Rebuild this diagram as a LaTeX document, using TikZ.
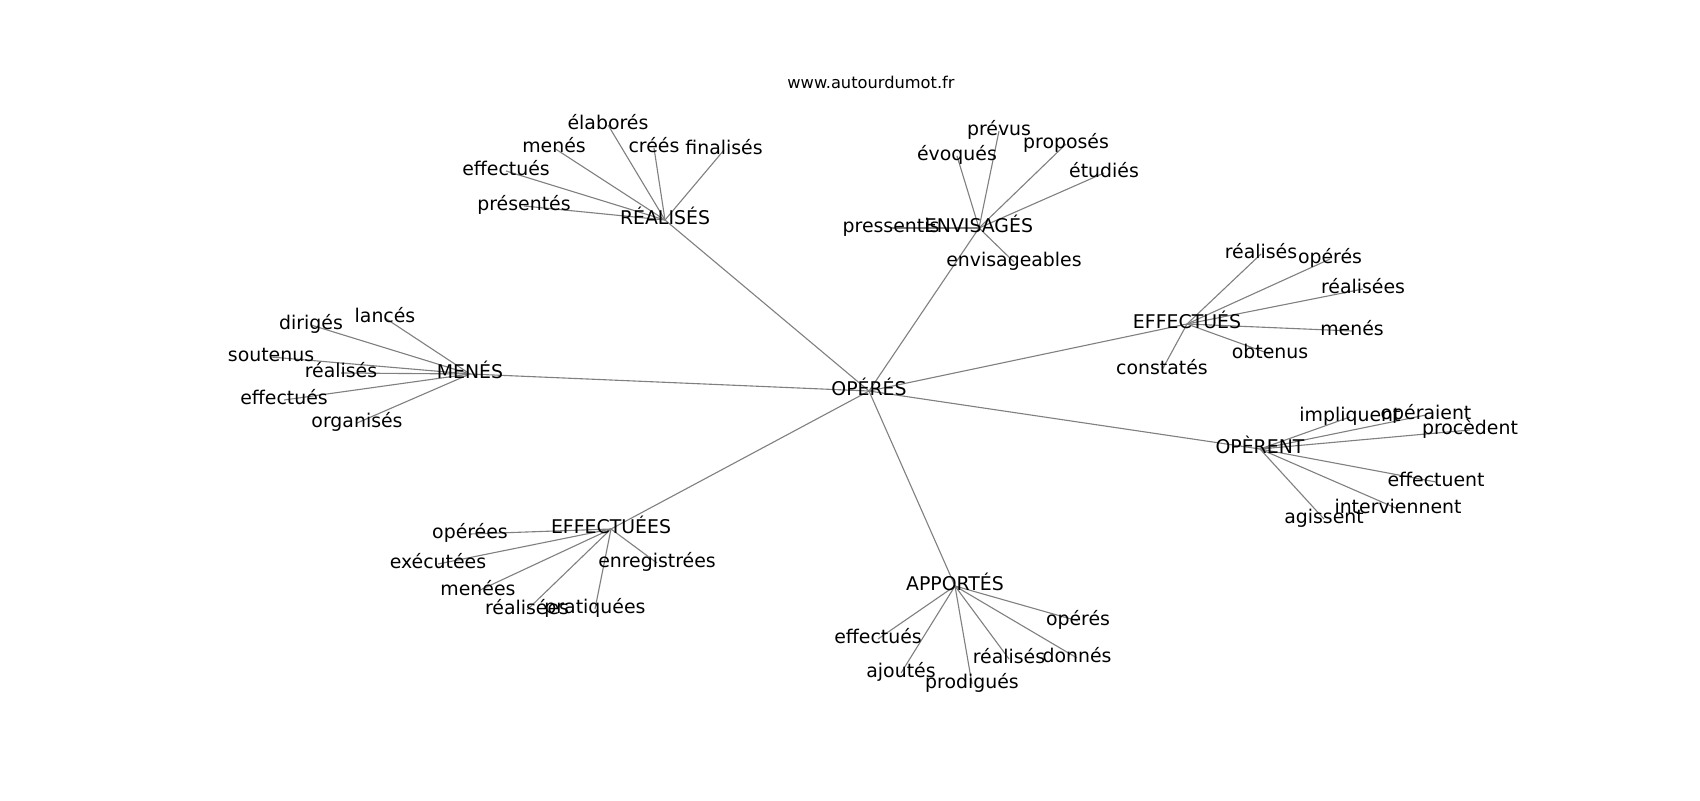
\documentclass[tikz,border=0pt]{standalone}
\usepackage{fontspec}
\setmainfont{DejaVu Sans}
\usetikzlibrary{backgrounds}
\begin{document}
\begin{tikzpicture}[x=0.72pt,y=-0.72pt,
  lbl/.style={inner sep=0pt, font=\fontsize{13.6}{16}\selectfont, text height=10.3pt, text depth=3.3pt, anchor=center},
  ttl/.style={inner sep=0pt, font=\fontsize{11.7}{14}\selectfont, anchor=center},
  edge/.style={draw=gray, line width=0.8pt}]
\useasboundingbox (0,0) rectangle (1700,800);
\node[ttl] (title) at (871,82) {www.autourdumot.fr};
% centre and hubs
\node[lbl] (c) at (869,391) {OPÉRÉS};
\node[lbl] (rea) at (665,220) {RÉALISÉS};
\node[lbl] (env) at (979,228) {ENVISAGÉS};
\node[lbl] (effs) at (1187,324) {EFFECTUÉS};
\node[lbl] (ope) at (1260,449) {OPÈRENT};
\node[lbl] (men) at (470,374) {MENÉS};
\node[lbl] (effe) at (611,529) {EFFECTUÉES};
\node[lbl] (app) at (955,586) {APPORTÉS};
% RÉALISÉS
\node[lbl] (rea1) at (608,125) {élaborés};
\node[lbl] (rea2) at (554,148) {menés};
\node[lbl] (rea3) at (654,148) {créés};
\node[lbl] (rea4) at (724,150) {finalisés};
\node[lbl] (rea5) at (506,171) {effectués};
\node[lbl] (rea6) at (524,206) {présentés};
% ENVISAGÉS
\node[lbl] (env1) at (999,131) {prévus};
\node[lbl] (env2) at (957,156) {évoqués};
\node[lbl] (env3) at (1066,144) {proposés};
\node[lbl] (env4) at (1104,173) {étudiés};
\node[lbl] (env5) at (891,228) {pressentis};
\node[lbl] (env6) at (1014,262) {envisageables};
% EFFECTUÉS
\node[lbl] (effs1) at (1261,254) {réalisés};
\node[lbl] (effs2) at (1330,259) {opérés};
\node[lbl] (effs3) at (1363,289) {réalisées};
\node[lbl] (effs4) at (1352,331) {menés};
\node[lbl] (effs5) at (1270,354) {obtenus};
\node[lbl] (effs6) at (1162,370) {constatés};
% OPÈRENT
\node[lbl] (ope1) at (1350,417) {impliquent};
\node[lbl] (ope2) at (1426,415) {opéraient};
\node[lbl] (ope3) at (1470,430) {procèdent};
\node[lbl] (ope4) at (1436,482) {effectuent};
\node[lbl] (ope5) at (1398,509) {interviennent};
\node[lbl] (ope6) at (1324,519) {agissent};
% MENÉS
\node[lbl] (men1) at (311,325) {dirigés};
\node[lbl] (men2) at (385,318) {lancés};
\node[lbl] (men3) at (271,357) {soutenus};
\node[lbl] (men4) at (341,373) {réalisés};
\node[lbl] (men5) at (284,400) {effectués};
\node[lbl] (men6) at (357,423) {organisés};
% EFFECTUÉES
\node[lbl] (effe1) at (470,534) {opérées};
\node[lbl] (effe2) at (438,564) {exécutées};
\node[lbl] (effe3) at (478,591) {menées};
\node[lbl] (effe4) at (527,610) {réalisées};
\node[lbl] (effe5) at (595,609) {pratiquées};
\node[lbl] (effe6) at (657,563) {enregistrées};
% APPORTÉS
\node[lbl] (app1) at (878,639) {effectués};
\node[lbl] (app2) at (901,673) {ajoutés};
\node[lbl] (app3) at (972,684) {prodigués};
\node[lbl] (app4) at (1009,659) {réalisés};
\node[lbl] (app5) at (1077,658) {donnés};
\node[lbl] (app6) at (1078,621) {opérés};
\begin{scope}[on background layer]
  \foreach \h in {rea,env,effs,ope,men,effe,app}{
    \draw[edge] (c.center) -- (\h.center);
    \foreach \i in {1,...,6}{
      \draw[edge] (\h.center) -- (\h\i.center);
    }
  }
\end{scope}
\end{tikzpicture}
\end{document}
